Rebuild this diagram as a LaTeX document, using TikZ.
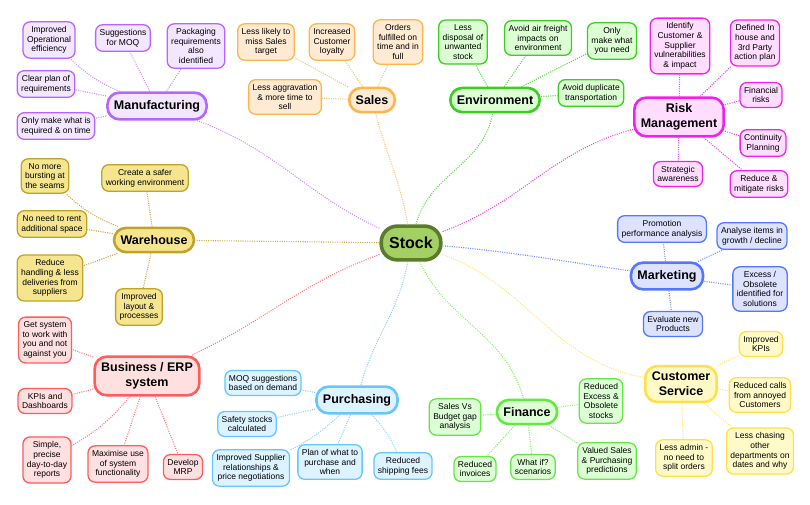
\documentclass[tikz,border=0pt]{standalone}
\usepackage{fontspec}
\setmainfont{Liberation Sans}
\usetikzlibrary{positioning}
\definecolor{stB}{HTML}{5A7A2C}\definecolor{stF}{HTML}{A2D063}
\definecolor{mfB}{HTML}{B566FF}\definecolor{mfF}{HTML}{F3E6FF}\definecolor{mfL}{HTML}{C98CFF}
\definecolor{saB}{HTML}{FFB54D}\definecolor{saF}{HTML}{FFEBD3}\definecolor{saL}{HTML}{FFC070}
\definecolor{enB}{HTML}{3DCC22}\definecolor{enF}{HTML}{DCFFD4}\definecolor{enL}{HTML}{55D83A}
\definecolor{rkB}{HTML}{EE22EE}\definecolor{rkF}{HTML}{FFDDFF}\definecolor{rkL}{HTML}{EE44EE}
\definecolor{whB}{HTML}{C0A32A}\definecolor{whF}{HTML}{F5E58F}\definecolor{whL}{HTML}{C4AA40}
\definecolor{mkB}{HTML}{5577FF}\definecolor{mkF}{HTML}{DDE3FF}\definecolor{mkL}{HTML}{6E8CFF}
\definecolor{bsB}{HTML}{FF5C5C}\definecolor{bsF}{HTML}{FFE0E0}\definecolor{bsL}{HTML}{FF7A7A}
\definecolor{puB}{HTML}{66C6FF}\definecolor{puF}{HTML}{DDF3FF}\definecolor{puL}{HTML}{88D2FF}
\definecolor{fiB}{HTML}{66E644}\definecolor{fiF}{HTML}{DDFFD5}\definecolor{fiL}{HTML}{88EE66}
\definecolor{csB}{HTML}{FFE04A}\definecolor{csF}{HTML}{FFFAC8}\definecolor{csL}{HTML}{FFE66E}
\tikzset{leaf/.style={draw=#1B, fill=#1F, line width=1.3pt, rounded corners=7pt, align=center,
    inner xsep=4pt, inner ysep=4.5pt, font=\fontsize{8.5}{9.7}\selectfont}}
\tikzset{hub/.style={draw=#1B, fill=#1F, line width=2.6pt, rounded corners=12pt, align=center,
    inner xsep=6.5pt, inner ysep=7.5pt, font=\fontsize{12.5}{15}\selectfont\bfseries}}
\tikzset{link/.style={draw=#1L, line width=1.1pt, dash pattern=on 1pt off 1.3pt}}
\begin{document}
\begin{tikzpicture}[x=1pt,y=1pt]
    \useasboundingbox (0,0) rectangle (810,-504);

    \node[hub=st, line width=3.6pt, rounded corners=16pt, inner xsep=8pt, inner ysep=11pt,
        font=\fontsize{16}{18}\selectfont\bfseries] (st) at (411,-243) {Stock};

    \node[hub=mf] (mf) at (157,-106) {Manufacturing};
    \node[hub=sa] (sa) at (372,-100) {Sales};
    \node[hub=en] (en) at (495,-100) {Environment};
    \node[hub=rk, inner ysep=6pt] (rk) at (679,-117) {Risk\\Management};
    \node[hub=wh] (wh) at (154,-240) {Warehouse};
    \node[hub=mk] (mk) at (667,-276) {Marketing};
    \node[hub=bs, inner ysep=6pt] (bs) at (147,-376) {Business / ERP\\system};
    \node[hub=pu] (pu) at (357,-400) {Purchasing};
    \node[hub=fi] (fi) at (527,-412) {Finance};
    \node[hub=cs, inner ysep=6pt] (cs) at (681,-384) {Customer\\Service};

    \draw[link=mf] (st) to[out=155,in=-20] (mf);
    \draw[link=sa] (st) to[out=100,in=-75] (sa);
    \draw[link=en] (st) to[out=75,in=-100] (en);
    \draw[link=rk] (st) to[out=20,in=195] (rk);
    \draw[link=wh] (st) -- (wh);
    \draw[link=mk] (st) to[out=-5,in=172] (mk);
    \draw[link=bs] (st) to[out=200,in=25] (bs);
    \draw[link=pu] (st) to[out=-100,in=75] (pu);
    \draw[link=fi] (st) to[out=-65,in=105] (fi);
    \draw[link=cs] (st) to[out=-20,in=170] (cs);

    \node[leaf=mf] (mf1) at (49,-40) {Improved\\Operational\\efficiency};
    \node[leaf=mf] (mf2) at (123,-38) {Suggestions\\for MOQ};
    \node[leaf=mf] (mf3) at (196,-46) {Packaging\\requirements\\also\\identified};
    \node[leaf=mf] (mf4) at (46,-84) {Clear plan of\\requirements};
    \node[leaf=mf] (mf5) at (56,-126) {Only make what is\\required \& on time};
    \draw[link=mf] (mf) to[bend left=10] (mf1);
    \draw[link=mf] (mf) -- (mf2);
    \draw[link=mf] (mf) -- (mf3);
    \draw[link=mf] (mf) -- (mf4);
    \draw[link=mf] (mf) -- (mf5);

    \node[leaf=sa] (sa1) at (266,-42) {Less likely to\\miss Sales\\target};
    \node[leaf=sa] (sa2) at (332,-42) {Increased\\Customer\\loyalty};
    \node[leaf=sa] (sa3) at (398,-42) {Orders\\fulfilled on\\time and in\\full};
    \node[leaf=sa] (sa4) at (285,-97) {Less aggravation\\\& more time to\\sell};
    \draw[link=sa] (sa) -- (sa1);
    \draw[link=sa] (sa) -- (sa2);
    \draw[link=sa] (sa) -- (sa3);
    \draw[link=sa] (sa) -- (sa4);

    \node[leaf=en] (en1) at (463,-42) {Less\\disposal of\\unwanted\\stock};
    \node[leaf=en] (en2) at (538,-38) {Avoid air freight\\impacts on\\environment};
    \node[leaf=en] (en3) at (612,-41) {Only\\make what\\you need};
    \node[leaf=en] (en4) at (591,-93) {Avoid duplicate\\transportation};
    \draw[link=en] (en) -- (en1);
    \draw[link=en] (en) -- (en2);
    \draw[link=en] (en) -- (en3);
    \draw[link=en] (en) -- (en4);

    \node[leaf=rk] (rk1) at (680,-46) {Identify\\Customer \&\\Supplier\\vulnerabilities\\\& impact};
    \node[leaf=rk] (rk2) at (755,-43) {Defined In\\house and\\3rd Party\\action plan};
    \node[leaf=rk] (rk3) at (761,-95) {Financial\\risks};
    \node[leaf=rk] (rk4) at (763,-143) {Continuity\\Planning};
    \node[leaf=rk] (rk5) at (759,-184) {Reduce \&\\mitigate risks};
    \node[leaf=rk] (rk6) at (678,-174) {Strategic\\awareness};
    \draw[link=rk] (rk) -- (rk1);
    \draw[link=rk] (rk) -- (rk2);
    \draw[link=rk] (rk) -- (rk3);
    \draw[link=rk] (rk) -- (rk4);
    \draw[link=rk] (rk) -- (rk5);
    \draw[link=rk] (rk) -- (rk6);

    \node[leaf=wh] (wh1) at (45,-176) {No more\\bursting at\\the seams};
    \node[leaf=wh] (wh2) at (145,-178) {Create a safer\\working environment};
    \node[leaf=wh] (wh3) at (52,-224) {No need to rent\\additional space};
    \node[leaf=wh] (wh4) at (50,-278) {Reduce\\handling \& less\\deliveries from\\suppliers};
    \node[leaf=wh] (wh5) at (139,-307) {Improved\\layout \&\\processes};
    \draw[link=wh] (wh) to[bend left=10] (wh1);
    \draw[link=wh] (wh) -- (wh2);
    \draw[link=wh] (wh) -- (wh3);
    \draw[link=wh] (wh) -- (wh4);
    \draw[link=wh] (wh) -- (wh5);

    \node[leaf=mk] (mk1) at (662,-229) {Promotion\\performance analysis};
    \node[leaf=mk] (mk2) at (752,-236) {Analyse items in\\growth / decline};
    \node[leaf=mk] (mk3) at (760,-289) {Excess /\\Obsolete\\identified for\\solutions};
    \node[leaf=mk] (mk4) at (673,-324) {Evaluate new\\Products};
    \draw[link=mk] (mk) -- (mk1);
    \draw[link=mk] (mk) -- (mk2);
    \draw[link=mk] (mk) -- (mk3);
    \draw[link=mk] (mk) -- (mk4);

    \node[leaf=bs] (bs1) at (45,-340) {Get system\\to work with\\you and not\\against you};
    \node[leaf=bs] (bs2) at (45,-401) {KPIs and\\Dashboards};
    \node[leaf=bs] (bs3) at (47,-460) {Simple,\\precise\\day-to-day\\reports};
    \node[leaf=bs] (bs4) at (118,-464) {Maximise use\\of system\\functionality};
    \node[leaf=bs] (bs5) at (183,-467) {Develop\\MRP};
    \draw[link=bs] (bs) -- (bs1);
    \draw[link=bs] (bs) -- (bs2);
    \draw[link=bs] (bs) to[bend left=10] (bs3);
    \draw[link=bs] (bs) -- (bs4);
    \draw[link=bs] (bs) -- (bs5);

    \node[leaf=pu] (pu1) at (263,-383) {MOQ suggestions\\based on demand};
    \node[leaf=pu] (pu2) at (247,-424) {Safety stocks\\calculated};
    \node[leaf=pu] (pu3) at (251,-468) {Improved Supplier\\relationships \&\\price negotiations};
    \node[leaf=pu] (pu4) at (330,-462) {Plan of what to\\purchase and\\when};
    \node[leaf=pu] (pu5) at (403,-466) {Reduced\\shipping fees};
    \draw[link=pu] (pu) -- (pu1);
    \draw[link=pu] (pu) -- (pu2);
    \draw[link=pu] (pu) to[bend left=8] (pu3);
    \draw[link=pu] (pu) -- (pu4);
    \draw[link=pu] (pu) to[bend left=10] (pu5);

    \node[leaf=fi] (fi1) at (455,-417) {Sales Vs\\Budget gap\\analysis};
    \node[leaf=fi] (fi2) at (601,-401) {Reduced\\Excess \&\\Obsolete\\stocks};
    \node[leaf=fi] (fi3) at (475,-469) {Reduced\\invoices};
    \node[leaf=fi] (fi4) at (533,-467) {What if?\\scenarios};
    \node[leaf=fi] (fi5) at (607,-461) {Valued Sales\\\& Purchasing\\predictions};
    \draw[link=fi] (fi) -- (fi1);
    \draw[link=fi] (fi) -- (fi2);
    \draw[link=fi] (fi) -- (fi3);
    \draw[link=fi] (fi) -- (fi4);
    \draw[link=fi] (fi) -- (fi5);

    \node[leaf=cs] (cs1) at (761,-344) {Improved\\KPIs};
    \node[leaf=cs] (cs2) at (760,-395) {Reduced calls\\from annoyed\\Customers};
    \node[leaf=cs] (cs3) at (760,-451) {Less chasing\\other\\departments on\\dates and why};
    \node[leaf=cs] (cs4) at (684,-458) {Less admin -\\no need to\\split orders};
    \draw[link=cs] (cs) -- (cs1);
    \draw[link=cs] (cs) -- (cs2);
    \draw[link=cs] (cs) -- (cs3);
    \draw[link=cs] (cs) -- (cs4);
\end{tikzpicture}
\end{document}
